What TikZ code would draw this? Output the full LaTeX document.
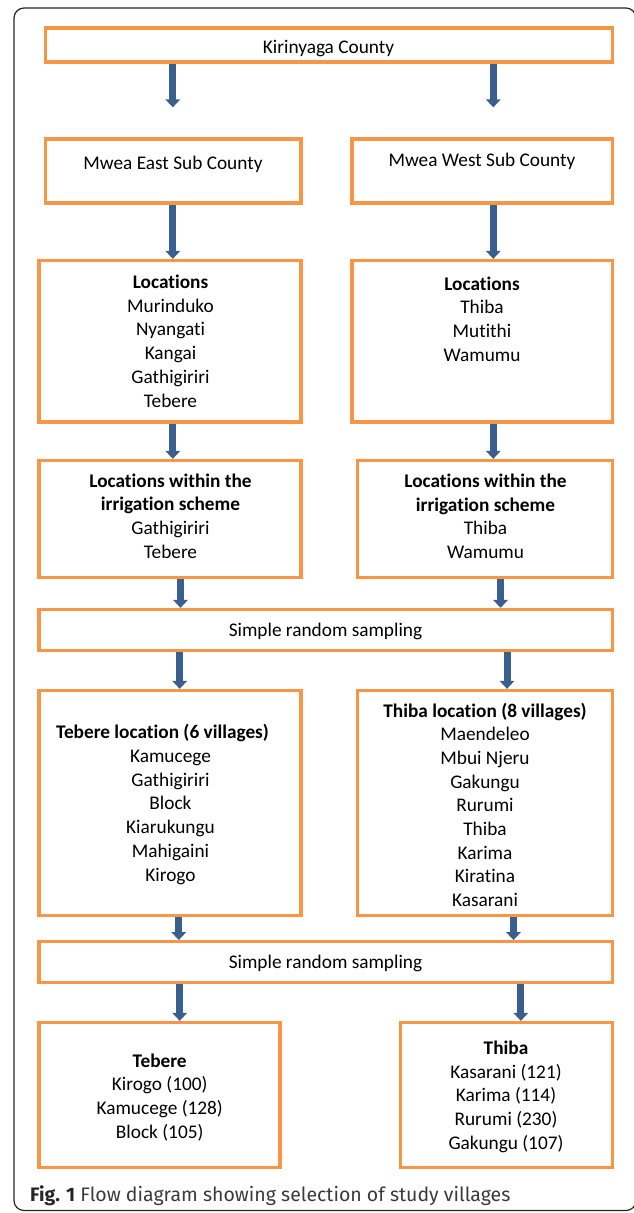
\documentclass[tikz,border=0pt]{standalone}
\usepackage{fontspec}
\setmainfont{Carlito}[Ligatures={NoCommon,NoContextual}]
\newfontfamily\capfont{Fira Sans}
\usetikzlibrary{arrows.meta,fit}
\definecolor{boxorange}{HTML}{F79646}
\definecolor{arrblue}{HTML}{3A5F8D}
\definecolor{capgray}{HTML}{3A3A3A}
\begin{document}
\begin{tikzpicture}[x=1pt,y=-1pt,
  box/.style={draw=boxorange, line width=3.3pt, inner sep=0pt},
  arr/.style={draw=arrblue, line width=7pt, -{Triangle[width=14.5pt,length=8pt]}},
  txt/.style={inner sep=0pt, align=center, anchor=base, font=\fontsize{19.3}{23.7}\selectfont},
  frame/.style={draw=black!85, line width=1.2pt, rounded corners=10pt}]
\useasboundingbox (0,0) rectangle (633,1213);
\draw[frame] (14,8) rectangle (636,1210.5);

% boxes
\node[box, fit={(45.5,28)(612.5,62)}] (k) {};
\node[box, fit={(45.5,139)(301,203)}] (me) {};
\node[box, fit={(352,139)(612.5,203)}] (mw) {};
\node[box, fit={(39,260.5)(301,422)}] (le) {};
\node[box, fit={(352,260.5)(612.5,422)}] (lw) {};
\node[box, fit={(39,460.5)(301,577.5)}] (ie) {};
\node[box, fit={(357.7,460.5)(612.5,577.5)}] (iw) {};
\node[box, fit={(39,609.5)(612.5,650.5)}] (s1) {};
\node[box, fit={(39,690.5)(301,915.3)}] (te) {};
\node[box, fit={(357.7,690.5)(612.5,915.3)}] (tw) {};
\node[box, fit={(39,941.7)(612.5,982.7)}] (s2) {};
\node[box, fit={(39,1022.5)(280,1167.7)}] (fe) {};
\node[box, fit={(400.5,1022.5)(612.5,1167.7)}] (fw) {};

% texts (anchor base = baseline of last line)
\node[txt] (tk) at (328.5,53.5) {Kirinyaga County};
\node[txt] (tme) at (173,169) {Mwea East Sub County};
\node[txt] (tmw) at (482,166) {Mwea West Sub County};
\node[txt] (tle) at (170.5,407) {\textbf{Locations}\\Murinduko\\Nyangati\\Kangai\\Gathigiriri\\Tebere};
\node[txt] (tlw) at (482,361.1) {\textbf{Locations}\\Thiba\\Mutithi\\Wamumu};
\node[txt] (tie) at (170.5,558.1) {\textbf{Locations within the}\\\textbf{irrigation scheme}\\Gathigiriri\\Tebere};
\node[txt] (tiw) at (485.5,558.4) {\textbf{Locations within the}\\\textbf{irrigation scheme}\\Thiba\\Wamumu};
\node[txt] (ts1) at (325.5,636.8) {Simple random sampling};
\node[txt] (tteh) at (162.5,738.5) {\textbf{Tebere location (6 villages)}};
\node[txt] (tte) at (170.5,881) {Kamucege\\Gathigiriri\\Block\\Kiarukungu\\Mahigaini\\Kirogo};
\node[txt] (ttw) at (485,906.6) {\textbf{Thiba location (8 villages)}\\Maendeleo\\Mbui Njeru\\Gakungu\\Rurumi\\Thiba\\Karima\\Kiratina\\Kasarani};
\node[txt] (ts2) at (325.5,968.5) {Simple random sampling};
\node[txt] (tfe) at (159.7,1138.1) {\textbf{Tebere}\\Kirogo (100)\\Kamucege (128)\\Block (105)};
\node[txt] (tfw) at (506,1149.3) {\textbf{Thiba}\\Kasarani (121)\\Karima (114)\\Rurumi (230)\\Gakungu (107)};

% caption
\node[inner sep=0pt, anchor=base west, font=\capfont\fontsize{19.5}{23}\selectfont, text=capgray] (cap) at (30,1201.7) {\textbf{\color{black!85}Fig. 1} Flow diagram showing selection of study villages};

% arrow x positions
\coordinate (x1) at (172.8,0);
\coordinate (x2) at (493.3,0);
\coordinate (x3) at (180.5,0);
\coordinate (x4) at (500.6,0);
\coordinate (x5) at (179.7,0);
\coordinate (x6) at (507,0);
\coordinate (x7) at (178.8,0);
\coordinate (x8) at (513.5,0);
\coordinate (x9) at (179.7,0);
\coordinate (x10) at (520.8,0);

\draw[arr, shorten >=30pt] (k.south -| x1) -- (me.north -| x1);
\draw[arr, shorten >=30pt] (k.south -| x2) -- (mw.north -| x2);
\draw[arr] (me.south -| x1) -- (le.north -| x1);
\draw[arr] (mw.south -| x2) -- (lw.north -| x2);
\draw[arr] (le.south -| x1) -- (ie.north -| x1);
\draw[arr] (lw.south -| x2) -- (iw.north -| x2);
\draw[arr] (ie.south -| x3) -- (s1.north -| x3);
\draw[arr] (iw.south -| x4) -- (s1.north -| x4);
\draw[arr] (s1.south -| x5) -- (te.north -| x5);
\draw[arr] (s1.south -| x6) -- (tw.north -| x6);
\draw[arr] (te.south -| x7) -- (s2.north -| x7);
\draw[arr] (tw.south -| x8) -- (s2.north -| x8);
\draw[arr] (s2.south -| x9) -- (fe.north -| x9);
\draw[arr] (s2.south -| x10) -- (fw.north -| x10);
\end{tikzpicture}
\end{document}
